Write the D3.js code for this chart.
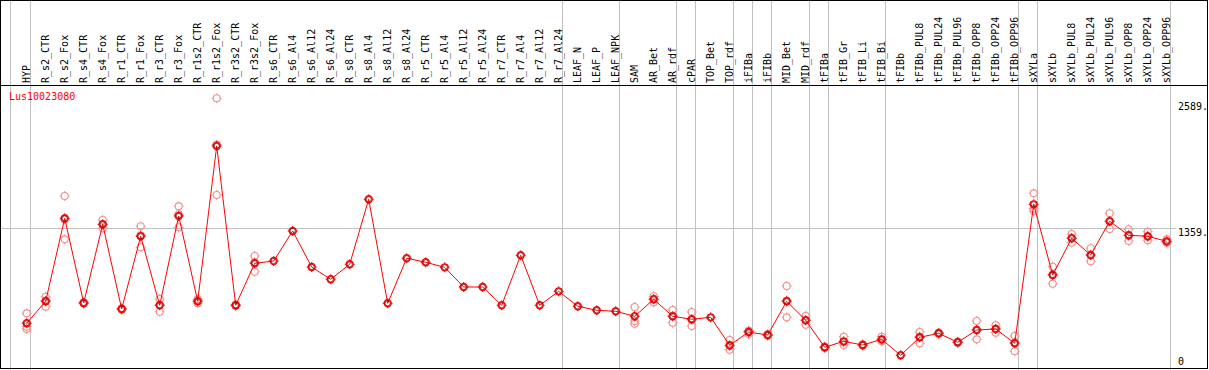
<!DOCTYPE html>
<html>
<head>
<meta charset="utf-8">
<script src="https://cdn.jsdelivr.net/npm/d3@7"></script>
<style>
  body { margin: 0; background: #fff; }
  svg { display: block; }
  text { font-family: "DejaVu Sans Mono", monospace; font-size: 10px; }
</style>
</head>
<body>
<div id="chart"></div>
<script>
// Data
const gene = 'Lus10023080';

const categories = [
    'HYP', 'R_s2_CTR', 'R_s2_Fox', 'R_s4_CTR', 'R_s4_Fox', 'R_r1_CTR', 'R_r1_Fox', 'R_r3_CTR', 'R_r3_Fox',
    'R_r1s2_CTR', 'R_r1s2_Fox', 'R_r3s2_CTR', 'R_r3s2_Fox', 'R_s6_CTR', 'R_s6_Al4', 'R_s6_Al12', 'R_s6_Al24',
    'R_s8_CTR', 'R_s8_Al4', 'R_s8_Al12', 'R_s8_Al24', 'R_r5_CTR', 'R_r5_Al4', 'R_r5_Al12', 'R_r5_Al24',
    'R_r7_CTR', 'R_r7_Al4', 'R_r7_Al12', 'R_r7_Al24', 'LEAF_N', 'LEAF_P', 'LEAF_NPK', 'SAM', 'AR_Bet', 'AR_rdf',
    'cPAR', 'TOP_Bet', 'TOP_rdf', 'iFIBa', 'iFIBb', 'MID_Bet', 'MID_rdf', 'tFIBa', 'tFIB_Gr', 'tFIB_Li', 'tFIB_Bi',
    'tFIBb', 'tFIBb_PUL8', 'tFIBb_PUL24', 'tFIBb_PUL96', 'tFIBb_OPP8', 'tFIBb_OPP24', 'tFIBb_OPP96',
    'sXYLa', 'sXYLb', 'sXYLb_PUL8', 'sXYLb_PUL24', 'sXYLb_PUL96', 'sXYLb_OPP8', 'sXYLb_OPP24', 'sXYLb_OPP96'
];

// mean expression per sample
const means = [
    461, 669, 1454, 653, 1397, 596, 1284, 631, 1476,
    669, 2138, 631, 1028, 1050, 1334, 993, 877,
    1019, 1634, 650, 1076, 1038, 990, 804, 804,
    631, 1104, 631, 763, 622, 584, 574, 527, 688, 527,
    499, 517, 253, 378, 350, 669, 489, 234, 290, 255, 309,
    158, 328, 366, 281, 397, 407, 272,
    1586, 918, 1265, 1107, 1426, 1293, 1284, 1236
];

// replicates (null = single sample)
const repA = [
    555, 712, 1665, 660, 1438, 602, 1378, 690, 1567,
    688, 2589, 638, 1097, null, null, null, null,
    null, null, null, null, null, null, null, null,
    null, null, null, null, null, null, null, 615, 716, 587,
    568, null, 303, 392, 358, 814, 530, 240, 334, 262, 334,
    null, 378, 372, 287, 482, 442, 341,
    1690, 996, 1305, 1170, 1501, 1350, 1327, 1255
];
const repB = [
    407, 618, 1255, 646, 1359, 590, 1180, 570, 1369,
    650, 1674, 624, 949, null, null, null, null,
    null, null, null, null, null, null, null, null,
    null, null, null, null, null, null, null, 457, 659, 466,
    435, null, 211, 359, 344, 517, 447, 228, 255, 249, 290,
    null, 272, 360, 276, 309, 372, 196,
    1523, 835, 1223, 1047, 1353, 1239, 1246, 1223
];
const repC = [
    429, 676, 1442, 653, 1394, 596, 1294, 633, 1492,
    669, 2151, 631, 1038, null, null, null, null,
    null, null, null, null, null, null, null, null,
    null, null, null, null, null, null, null, 482, 690, 528,
    494, null, 245, 383, 348, 676, 490, 234, 281, 255, 303,
    null, 334, 366, 280, 400, 407, 279,
    1545, 923, 1267, 1104, 1424, 1290, 1279, 1230
];

// last sample of each group (a separator follows it)
const groupEnds = ['HYP', 'R_r7_Al24', 'LEAF_NPK', 'AR_rdf', 'cPAR', 'TOP_rdf', 'iFIBa', 'iFIBb',
    'MID_rdf', 'tFIBa', 'tFIB_Bi', 'tFIBb_OPP96', 'sXYLa', 'sXYLb_OPP96'];

const tickValues = [2589, 1359, 0];
const tickLabels = ['2589.', '1359.', '0'];
const gridValues = [1359];

// Layout
const W = 1209, H = 370;
const headerY = 85;

const svg = d3.select('#chart').append('svg')
    .attr('width', W)
    .attr('height', H);

svg.append('rect').attr('width', W).attr('height', H).attr('fill', '#fff');

const x = d3.scalePoint()
    .domain(categories)
    .range([26.7, 1166.7]);

const y = d3.scaleLinear()
    .domain([0, 2589])
    .range([372, 98.3]);

const px = v => Math.floor(v) + 0.5;

// vertical group separators
const sepX = [x(categories[0]) - 16].concat(groupEnds.map(c => x(c) + 4));
svg.selectAll('.sep')
    .data(sepX)
    .enter().append('line')
    .attr('x1', d => px(d)).attr('x2', d => px(d))
    .attr('y1', 0).attr('y2', H)
    .attr('stroke', '#c0c0c0')
    .attr('shape-rendering', 'crispEdges');

// horizontal grid
svg.selectAll('.grid')
    .data(gridValues)
    .enter().append('line')
    .attr('x1', 0).attr('x2', 1176)
    .attr('y1', d => px(y(d))).attr('y2', d => px(y(d)))
    .attr('stroke', '#c0c0c0')
    .attr('shape-rendering', 'crispEdges');

// frame and header rule
svg.append('rect')
    .attr('x', 0.5).attr('y', 0.5)
    .attr('width', 1207).attr('height', 368)
    .attr('fill', 'none')
    .attr('stroke', '#000')
    .attr('shape-rendering', 'crispEdges');
svg.append('line')
    .attr('x1', 0).attr('x2', 1208)
    .attr('y1', headerY + 0.5).attr('y2', headerY + 0.5)
    .attr('stroke', '#000')
    .attr('shape-rendering', 'crispEdges');

// rotated sample labels
svg.selectAll('.lab')
    .data(categories)
    .enter().append('text')
    .attr('transform', d => `translate(${Math.round(x(d) + 3)},${headerY - 2}) rotate(-90)`)
    .attr('fill', '#000')
    .text(d => d);

// right-side value labels
svg.selectAll('.tick')
    .data(tickValues)
    .enter().append('text')
    .attr('x', 1178)
    .attr('y', d => Math.round(Math.max(110, Math.min(365, y(d) + 8))))
    .attr('fill', '#000')
    .text((d, i) => tickLabels[i]);

// gene name
svg.append('text')
    .attr('x', 9)
    .attr('y', 100)
    .attr('fill', '#ff0000')
    .text(gene);

// marker helper
function drawMarkers(sel, color, width) {
    sel.append('circle')
        .attr('r', 3.5)
        .attr('fill', 'none')
        .attr('stroke', color)
        .attr('stroke-width', width);
    [[0, -1], [0, 1], [-1, 0], [1, 0]].forEach(([dx, dy]) => {
        sel.append('line')
            .attr('x1', dx * 3.5).attr('y1', dy * 3.5)
            .attr('x2', dx * 5).attr('y2', dy * 5)
            .attr('stroke', color)
            .attr('stroke-width', 1);
    });
}

// replicate points
const reps = [];
[repA, repB, repC].forEach(arr => {
    arr.forEach((v, i) => { if (v !== null) reps.push({ cat: categories[i], v }); });
});

const repG = svg.selectAll('.rep')
    .data(reps)
    .enter().append('g')
    .attr('transform', d => `translate(${x(d.cat)},${y(d.v)})`);
drawMarkers(repG, '#f09090', 1.1);

// mean line
const meanData = categories.map((c, i) => ({ cat: c, v: means[i] }));
svg.append('path')
    .datum(meanData)
    .attr('fill', 'none')
    .attr('stroke', '#ff0000')
    .attr('stroke-width', 1)
    .attr('d', d3.line().x(d => x(d.cat)).y(d => y(d.v)));

// mean points
const meanG = svg.selectAll('.mean')
    .data(meanData)
    .enter().append('g')
    .attr('transform', d => `translate(${x(d.cat)},${y(d.v)})`);
drawMarkers(meanG, '#ff0000', 1.4);
meanG.append('circle')
    .attr('r', 2.6)
    .attr('fill', 'none')
    .attr('stroke', '#600000')
    .attr('stroke-width', 0.7);
</script>
</body>
</html>
